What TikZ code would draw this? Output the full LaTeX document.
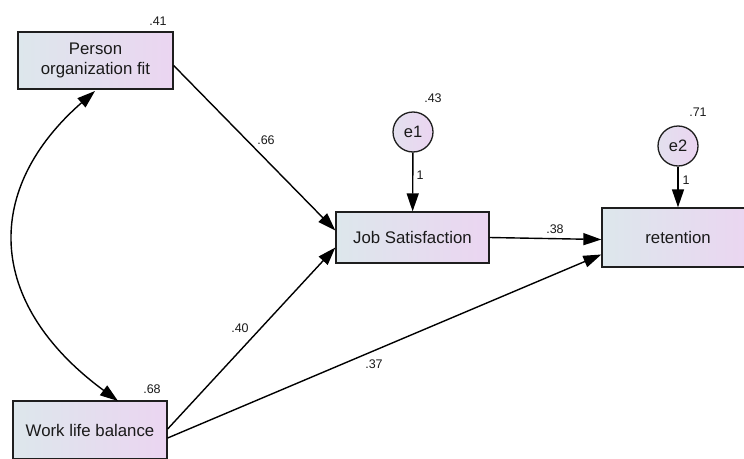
\documentclass[tikz,border=0pt]{standalone}
\usepackage{fontspec}
\setmainfont{Liberation Sans}
\usetikzlibrary{arrows.meta}
\definecolor{fillL}{HTML}{DDE7EC}
\definecolor{fillR}{HTML}{EBD5F1}
\definecolor{edgeC}{HTML}{1E1E1E}
\definecolor{txtC}{HTML}{1A1A1A}
\begin{document}
\begin{tikzpicture}[x=1pt,y=-1pt,
  var/.style={rectangle, draw=edgeC, line width=1.3pt, left color=fillL, right color=fillR,
    inner sep=0pt, align=center, text=txtC, font=\fontsize{16.8}{19.5}\selectfont},
  err/.style={circle, draw=edgeC, line width=1.3pt, left color=fillL!60!fillR, right color=fillR,
    inner sep=0pt, minimum size=40pt, text=txtC, font=\fontsize{16.5}{19}\selectfont},
  lbl/.style={inner sep=0pt, text=txtC, font=\fontsize{12.5}{14}\selectfont},
  conn/.style={line width=1.4pt, draw=black, -{Triangle[length=18pt,width=12pt]}},
  dconn/.style={line width=1.4pt, draw=black, {Triangle[length=18pt,width=12pt]}-{Triangle[length=18pt,width=12pt]}}
]
\useasboundingbox (0,0) rectangle (744,458);

\node[var, minimum width=155pt, minimum height=57pt] (pof) at (95.5,60.5) {Person\\organization fit};
\node[var, minimum width=154pt, minimum height=58pt] (wlb) at (90,430) {Work life balance};
\node[var, minimum width=153pt, minimum height=51pt] (js) at (412.5,237.5) {Job Satisfaction};
\node[var, minimum width=152pt, minimum height=59pt] (ret) at (678,237.5) {retention};
\node[err] (e1) at (413,132) {e1};
\node[err] (e2) at (678,146) {e2};

\coordinate (cpA) at (95,91);
\coordinate (cpB) at (118,401);
\draw[dconn] (cpA) .. controls (-16,188) and (-16,302) .. (cpB);

\draw[conn] ([yshift=-5pt]pof.east) -- ([yshift=7pt]js.west);
\draw[conn] ([yshift=1pt]wlb.east) -- ([yshift=-10pt]js.west);
\draw[conn] ([yshift=-8pt]wlb.east) -- ([yshift=-17pt]ret.west);
\draw[conn] (js.east) -- ([yshift=-2pt]ret.west);
\draw[conn] (e1) -- (js);
\draw[conn] (e2) -- (ret);

\node[lbl] (l41) at (158,21) {.41};
\node[lbl] (l68) at (152,389) {.68};
\node[lbl] (l43) at (433,98) {.43};
\node[lbl] (l71) at (698,112) {.71};
\node[lbl] (l66) at (266,140) {.66};
\node[lbl] (l40) at (240,328) {.40};
\node[lbl] (l37) at (374,364) {.37};
\node[lbl] (l38) at (555,229) {.38};
\node[lbl] (l1a) at (420,175) {1};
\node[lbl] (l1b) at (686,180) {1};
\end{tikzpicture}
\end{document}
